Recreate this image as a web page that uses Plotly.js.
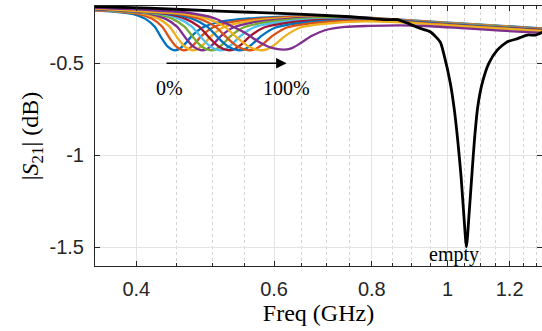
<!DOCTYPE html>
<html>
<head>
<meta charset="utf-8">
<script src="https://cdn.plot.ly/plotly-3.0.1.min.js"></script>
<style>html,body{margin:0;padding:0;background:#fff;}#chart{width:542px;height:331px;}</style>
</head>
<body>
<div id="chart"></div>
<script>
// Fill levels (0% .. 100%) and the empty case
const fillLabels = ['0%','10%','20%','30%','40%','50%','60%','70%','80%','90%','100%'];
const lineColors = ['#0072BD','#D95319','#EDB120','#7E2F8E','#77AC30','#4DBEEE','#A2142F','#0072BD','#D95319','#EDB120','#7E2F8E'];

const f_0 = [0.35,0.3739,0.3966,0.4109,0.4220,0.4308,0.4385,0.4463,0.4529,0.4610,0.4707,0.4862,0.5112,0.5569,0.707,0.87,1.04,1.33];
const s_0 = [-0.212,-0.218,-0.232,-0.258,-0.300,-0.362,-0.408,-0.428,-0.424,-0.397,-0.352,-0.305,-0.275,-0.256,-0.243,-0.262,-0.283,-0.310];
const f_10 = [0.35,0.3785,0.4034,0.4192,0.4314,0.4411,0.4496,0.4583,0.4654,0.4740,0.4843,0.5010,0.5278,0.5770,0.707,0.87,1.04,1.33];
const s_10 = [-0.211,-0.218,-0.232,-0.258,-0.300,-0.362,-0.408,-0.428,-0.424,-0.397,-0.352,-0.305,-0.276,-0.257,-0.245,-0.263,-0.285,-0.312];
const f_20 = [0.35,0.3832,0.4104,0.4276,0.4410,0.4517,0.4610,0.4706,0.4782,0.4874,0.4984,0.5162,0.5449,0.5977,0.707,0.87,1.04,1.33];
const s_20 = [-0.209,-0.218,-0.232,-0.258,-0.300,-0.362,-0.408,-0.428,-0.424,-0.397,-0.352,-0.305,-0.277,-0.258,-0.247,-0.265,-0.286,-0.313];
const f_30 = [0.35,0.3880,0.4175,0.4362,0.4508,0.4625,0.4728,0.4833,0.4914,0.5012,0.5129,0.5319,0.5627,0.6193,0.707,0.87,1.04,1.33];
const s_30 = [-0.208,-0.218,-0.232,-0.258,-0.300,-0.362,-0.408,-0.428,-0.424,-0.397,-0.352,-0.305,-0.278,-0.259,-0.249,-0.266,-0.288,-0.315];
const f_40 = [0.35,0.3928,0.4247,0.4450,0.4609,0.4736,0.4848,0.4963,0.5049,0.5154,0.5279,0.5481,0.5810,0.6416,0.707,0.87,1.04,1.33];
const s_40 = [-0.206,-0.218,-0.232,-0.258,-0.300,-0.362,-0.408,-0.428,-0.424,-0.397,-0.352,-0.305,-0.279,-0.260,-0.251,-0.267,-0.289,-0.316];
const f_50 = [0.35,0.3977,0.4320,0.4539,0.4711,0.4849,0.4971,0.5096,0.5187,0.5299,0.5432,0.5647,0.5998,0.6647,0.87,1.04,1.33];
const s_50 = [-0.205,-0.218,-0.232,-0.258,-0.300,-0.362,-0.408,-0.428,-0.424,-0.397,-0.352,-0.305,-0.280,-0.262,-0.269,-0.291,-0.318];
const f_60 = [0.35,0.4012,0.4384,0.4623,0.4811,0.4962,0.5096,0.5233,0.5330,0.5450,0.5592,0.5824,0.6201,0.6902,0.87,1.04,1.33];
const s_60 = [-0.204,-0.218,-0.232,-0.258,-0.300,-0.362,-0.408,-0.428,-0.424,-0.397,-0.352,-0.305,-0.281,-0.264,-0.270,-0.292,-0.319];
const f_70 = [0.35,0.4060,0.4462,0.4722,0.4927,0.5093,0.5239,0.5390,0.5494,0.5622,0.5775,0.6025,0.6431,0.7188,0.87,1.04,1.33];
const s_70 = [-0.202,-0.218,-0.232,-0.258,-0.300,-0.362,-0.408,-0.428,-0.424,-0.397,-0.352,-0.305,-0.282,-0.266,-0.272,-0.294,-0.321];
const f_80 = [0.35,0.4108,0.4541,0.4823,0.5046,0.5227,0.5386,0.5551,0.5663,0.5800,0.5964,0.6231,0.6668,0.7485,0.87,1.04,1.33];
const s_80 = [-0.201,-0.218,-0.232,-0.258,-0.300,-0.362,-0.408,-0.428,-0.424,-0.397,-0.352,-0.305,-0.283,-0.268,-0.274,-0.296,-0.323];
const f_90 = [0.35,0.4144,0.4622,0.4936,0.5184,0.5386,0.5566,0.5751,0.5871,0.6018,0.6195,0.6483,0.6955,0.7841,0.87,1.04,1.33];
const s_90 = [-0.199,-0.218,-0.232,-0.258,-0.300,-0.362,-0.408,-0.428,-0.424,-0.397,-0.352,-0.305,-0.285,-0.272,-0.277,-0.298,-0.325];
const f_100 = [0.35,0.4158,0.4679,0.5037,0.5343,0.5552,0.5719,0.5890,0.6067,0.6193,0.6323,0.6512,0.6707,0.6969,0.7393,0.7960,0.87,0.9502,1.04,1.1683,1.33];
const s_100 = [-0.198,-0.210,-0.226,-0.255,-0.305,-0.343,-0.380,-0.408,-0.423,-0.425,-0.417,-0.385,-0.350,-0.320,-0.302,-0.296,-0.293,-0.298,-0.308,-0.322,-0.335];

const f_empty = [0.35,0.416,0.519,0.601,0.739,0.796,0.832,0.862,0.887,0.904,0.9226,0.95,0.9787,0.9883,1.008,1.020,1.030,1.0403,1.0484,1.0568,1.0652,1.0734,1.082,1.0926,1.1069,1.1287,1.157,1.192,1.2212,1.2641,1.2955,1.33];
const s_empty = [-0.190,-0.200,-0.217,-0.227,-0.245,-0.255,-0.262,-0.262,-0.280,-0.295,-0.310,-0.328,-0.385,-0.446,-0.609,-0.754,-0.917,-1.117,-1.316,-1.498,-1.316,-1.117,-0.917,-0.736,-0.609,-0.500,-0.428,-0.382,-0.369,-0.346,-0.346,-0.326];

const xTickVals = [0.4,0.6,0.8,1,1.2];
const xTickText = ['0.4','0.6','0.8','1','1.2'];
const xMinorVals = [0.45,0.5,0.55,0.65,0.7,0.75,0.85,0.9,0.95,1.05,1.1,1.15,1.25,1.3];
const yTickVals = [-1.5,-1,-0.5];
const yTickText = ['-1.5','-1','-0.5'];

const fillF = [f_0,f_10,f_20,f_30,f_40,f_50,f_60,f_70,f_80,f_90,f_100];
const fillS = [s_0,s_10,s_20,s_30,s_40,s_50,s_60,s_70,s_80,s_90,s_100];

const traces = fillLabels.map((name,i)=>({
  x: fillF[i], y: fillS[i], name: name, type:'scatter', mode:'lines',
  line:{color: lineColors[i], width: 2.3, shape:'spline', smoothing:0.8},
  hoverinfo:'skip'
}));
traces.push({
  x: f_empty, y: s_empty, name:'empty', type:'scatter', mode:'lines',
  line:{color:'#000000', width:2.8, shape:'spline', smoothing:0.6},
  hoverinfo:'skip'
});

const axisColor = '#262626';
const tickFont = {family:'"Liberation Sans", Arial, Helvetica, sans-serif', size:20, color:axisColor};
const serif = '"Liberation Serif", "Times New Roman", serif';

const layout = {
  width:542, height:331,
  margin:{l:95, r:0, t:6, b:65},
  paper_bgcolor:'#ffffff', plot_bgcolor:'#ffffff',
  showlegend:false,
  xaxis:{
    type:'log',
    range:[Math.log10(0.3542), Math.log10(1.32)],
    tickmode:'array', tickvals:xTickVals, ticktext:xTickText,
    ticks:'inside', ticklen:5, tickwidth:1, tickcolor:axisColor,
    showline:true, linecolor:axisColor, linewidth:1, mirror:'ticks',
    showgrid:true, gridcolor:'#e3e3e3', gridwidth:1, zeroline:false,
    tickfont:tickFont, ticklabelstandoff:5,
    minor:{tickmode:'array', tickvals:xMinorVals, ticks:'inside', ticklen:3, tickcolor:axisColor,
           showgrid:true, gridcolor:'#d2d2d2', griddash:'dot', gridwidth:1},
    title:{text:'Freq (GHz)', font:{family:serif, size:24, color:'#000'}, standoff:2}
  },
  yaxis:{
    range:[-1.602,-0.188],
    tickmode:'array', tickvals:yTickVals, ticktext:yTickText,
    ticks:'inside', ticklen:5, tickwidth:1, tickcolor:axisColor,
    showline:true, linecolor:axisColor, linewidth:1, mirror:'ticks',
    showgrid:true, gridcolor:'#e3e3e3', gridwidth:1, zeroline:false,
    tickfont:tickFont, ticklabelstandoff:6,
    title:{text:'|<i>S</i><sub>21</sub>| (dB)', font:{family:serif, size:24, color:'#000'}, standoff:4}
  },
  annotations:[
    {x:Math.log10(0.6225), y:-0.5, ax:Math.log10(0.4334), ay:-0.5, xref:'x', yref:'y', axref:'x', ayref:'y',
     text:' ', showarrow:true, arrowhead:2, arrowsize:1.4, arrowwidth:1.5, arrowcolor:'#000'},
    {x:Math.log10(0.4410), y:-0.634, xref:'x', yref:'y', text:'0%', showarrow:false,
     font:{family:serif, size:20, color:'#000'}},
    {x:Math.log10(0.6232), y:-0.634, xref:'x', yref:'y', text:'100%', showarrow:false,
     font:{family:serif, size:20, color:'#000'}},
    {x:Math.log10(1.02), y:-1.538, xref:'x', yref:'y', text:'empty', showarrow:false,
     font:{family:serif, size:20, color:'#000'}}
  ]
};

Plotly.newPlot('chart', traces, layout, {staticPlot:true, displayModeBar:false});
</script>
</body>
</html>
